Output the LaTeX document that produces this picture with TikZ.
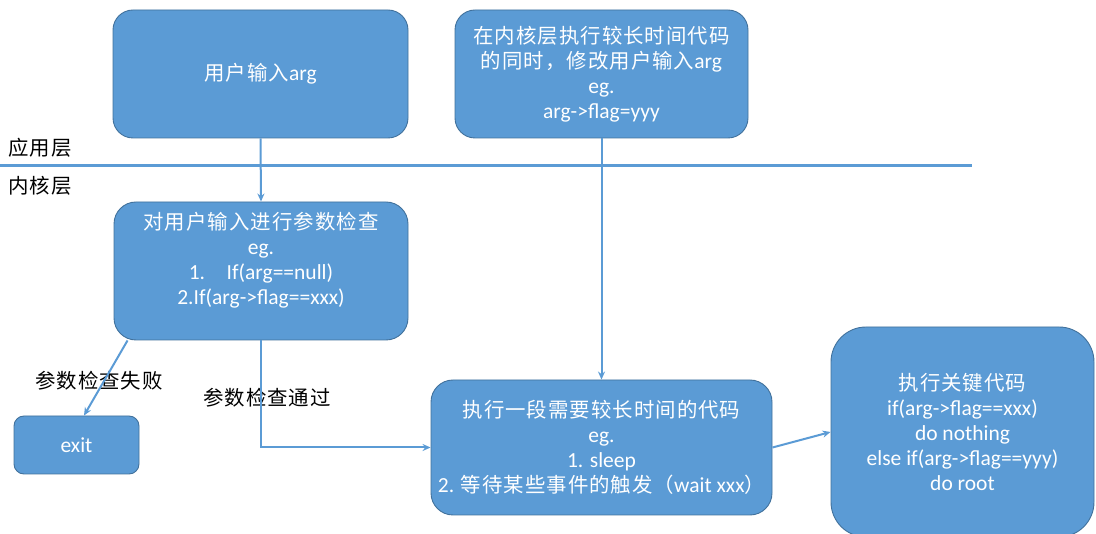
\documentclass[tikz,border=0pt]{standalone}
\usepackage{fontspec}
\setmainfont{Carlito}
\newfontfamily\cjk[Scale=0.95,LetterSpace=5]{Noto Sans CJK SC}
\usetikzlibrary{arrows.meta}
\definecolor{boxfill}{HTML}{5B9BD5}
\definecolor{boxline}{HTML}{41719C}
\begin{document}
\begin{tikzpicture}[x=1pt,y=-1pt,
  box/.style={draw=boxline,line width=0.9pt,fill=boxfill,text=white,align=center,
    inner sep=0pt,font=\fontsize{21.5}{25}\selectfont},
  conn/.style={draw=boxfill,line width=2pt,-{Stealth[length=8pt,width=7pt]}},
  layer/.style={font=\cjk\fontsize{21.5}{24}\selectfont,text=black,inner sep=0pt}]
\useasboundingbox (0,0) rectangle (1096,534);
\clip (0,0) rectangle (1096,534);
% layer separator
\coordinate (hl) at (0,166);
\coordinate (hr) at (972,166);
\draw[boxfill,line width=3pt] (hl) -- (hr);
\node[layer] (app) at (40,148) {应用层};
\node[layer] (ker) at (40,186) {内核层};
% boxes
\node[box,minimum width=295pt,minimum height=128pt,rounded corners=20pt] (b1) at (260.5,74)
  {{\cjk 用户输入}arg};
\node[box,minimum width=293pt,minimum height=128pt,rounded corners=20pt] (b2) at (601.5,74)
  {{\cjk 在内核层执行较长时间代码}\\{\cjk 的同时，修改用户输入}arg\\eg.\\arg->flag=yyy};
\node[box,minimum width=294pt,minimum height=138pt,rounded corners=22pt] (b3) at (261,271)
  {{\cjk 对用户输入进行参数检查}\\eg.\\1.\quad If(arg==null)\\2.If(arg->flag==xxx)\\ \mbox{}};
\node[box,minimum width=125pt,minimum height=58pt,rounded corners=10pt] (ex) at (76.5,445)
  {exit};
\node[box,minimum width=341pt,minimum height=135pt,rounded corners=22pt] (b4) at (601.5,447.5)
  {{\cjk 执行一段需要较长时间的代码}\\eg.\\1. sleep\\2. {\cjk 等待某些事件的触发（}wait xxx{\cjk ）}};
\node[box,minimum width=263pt,minimum height=210pt,rounded corners=35pt] (b5) at (962.5,432)
  {{\cjk 执行关键代码}\\if(arg->flag==xxx)\\do nothing\\else if(arg->flag==yyy)\\do root};
% labels
\node[layer] (fail) at (99,381) {参数检查失败};
\node[layer] (pass) at (267,398) {参数检查通过};
% connectors
\draw[conn] (b1.south) -- (b3.north);
\draw[conn] ([xshift=14pt]b3.south west) -- ([xshift=7.5pt]ex.north);
\draw[conn] (b3.south) |- (b4.west);
\draw[conn] (b2.south) -- (b4.north);
\draw[conn] (b4.east) -- (b5.west);
\end{tikzpicture}
\end{document}
